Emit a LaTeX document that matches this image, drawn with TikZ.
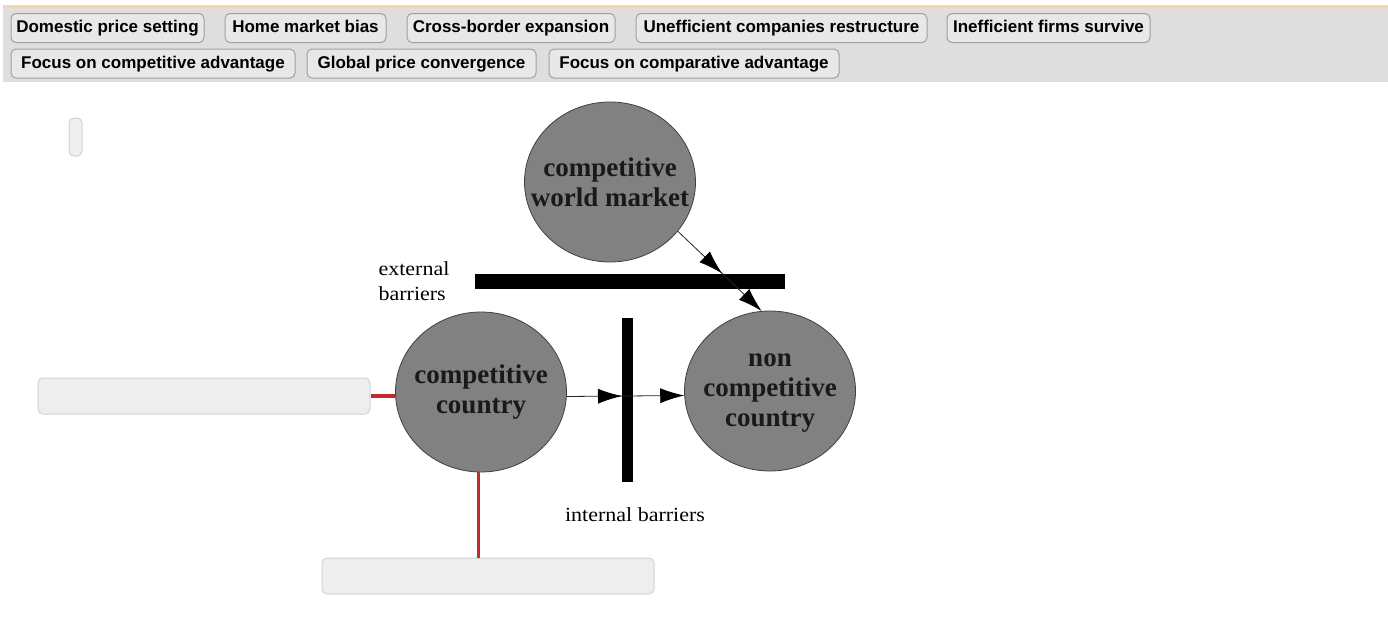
\documentclass[tikz,border=0pt]{standalone}
\usepackage{fontspec}
\setmainfont{Liberation Serif}
\newfontfamily\btnfont{Liberation Sans}
\usetikzlibrary{shapes.geometric}
\usetikzlibrary{arrows.meta}
\usetikzlibrary{decorations.markings}
\definecolor{bargray}{HTML}{DEDEDE}
\definecolor{btnfill}{HTML}{E8E8E8}
\definecolor{btnline}{HTML}{A0A0A0}
\definecolor{topline}{HTML}{FCD3A4}
\definecolor{ballgray}{HTML}{818181}
\definecolor{slotfill}{HTML}{EEEEEE}
\definecolor{slotline}{HTML}{D2D2D2}
\definecolor{linkred}{HTML}{C42A2A}
\tikzstyle{btn} = [draw=btnline,fill=btnfill,rounded corners=5pt,line width=1pt,minimum height=29pt,inner xsep=0pt,text height=12.5pt,text depth=3.5pt,font=\btnfont\bfseries\fontsize{17}{19}\selectfont]
\tikzstyle{ball} = [ellipse,draw=black!75,fill=ballgray,line width=0.8pt,minimum width=171pt,minimum height=160pt,inner sep=0pt]
\tikzstyle{balltext} = [align=center,inner sep=0pt,text=black!90,font=\bfseries\fontsize{27}{30}\selectfont]
\tikzstyle{wall} = [fill=black,inner sep=0pt]
\tikzstyle{slot} = [draw=slotline,fill=slotfill,rounded corners=5pt,line width=1pt,inner sep=0pt]
\tikzstyle{flow} = [draw=black!85,line width=0.8pt,-{Latex[length=24pt,width=15pt,color=black]}]
\tikzstyle{link} = [draw=linkred]
\tikzstyle{note} = [transform shape,xscale=1.1,inner sep=0pt,font=\fontsize{20}{25}\selectfont]

\begin{document}
\begin{tikzpicture}[x=1pt,y=-1pt]
\useasboundingbox (0,0) rectangle (1388,616);
\fill[white] (0,0) rectangle (1388,616);

% answer bank
\fill[topline] (3,5) rectangle (1388,8);
\fill[bargray] (3,8) rectangle (1388,82);
\node[btn,minimum width=193pt] (dom) at (107.5,28) {Domestic price setting};
\node[btn,minimum width=161pt] (home) at (305.5,28) {Home market bias};
\node[btn,minimum width=208pt] (cross) at (511,28) {Cross-border expansion};
\node[btn,minimum width=291pt] (unef) at (781.5,28) {Unefficient companies restructure};
\node[btn,minimum width=203pt] (inef) at (1048.5,28) {Inefficient firms survive};
\node[btn,minimum width=284pt] (compadv) at (153,63.5) {Focus on competitive advantage};
\node[btn,minimum width=229pt] (glob) at (421.5,63.5) {Global price convergence};
\node[btn,minimum width=290pt] (comparadv) at (694,63.5) {Focus on comparative advantage};

% drop slots
\node[slot,minimum width=13pt,minimum height=38pt] (tiny) at (75.5,137) {};
\node[slot,minimum width=332pt,minimum height=36pt] (leftbox) at (204,396) {};
\node[slot,minimum width=332pt,minimum height=36pt] (botbox) at (488,576) {};

% markets
\node[ball] (world) at (610,182) {};
\node[ball] (comp) at (481,392) {};
\node[ball] (noncomp) at (770,391) {};
\node[balltext] (worldtxt) at (world) {competitive\\world market};
\node[balltext] (comptxt) at (comp) {competitive\\country};
\node[balltext] (noncomptxt) at ([yshift=-2pt]noncomp.center) {non\\competitive\\country};

% barriers
\node[wall,minimum width=310pt,minimum height=15pt] (extbar) at (630,281.5) {};
\node[wall,minimum width=11pt,minimum height=164pt] (intbar) at (627.5,400) {};
\node[note,align=left] (extlbl) at (414,281.5) {external\\barriers};
\node[note] (intlbl) at (635,515) {internal barriers};

% flows
\draw[flow,decoration={markings,mark=at position 0.53 with {\arrow{Latex[length=24pt,width=15pt,color=black]}}},postaction=decorate] (world.-36) -- (noncomp.96);
\draw[flow,decoration={markings,mark=at position 0.47 with {\arrow{Latex[length=24pt,width=15pt,color=black]}}},postaction=decorate] (comp.-3) -- (noncomp.183);

% links to slots
\draw[link,line width=4pt] (leftbox.east) -- (leftbox.east -| comp.west);
\draw[link,line width=3pt] (comp.-92) -- (comp.-92 |- botbox.north);

\end{tikzpicture}
\end{document}
